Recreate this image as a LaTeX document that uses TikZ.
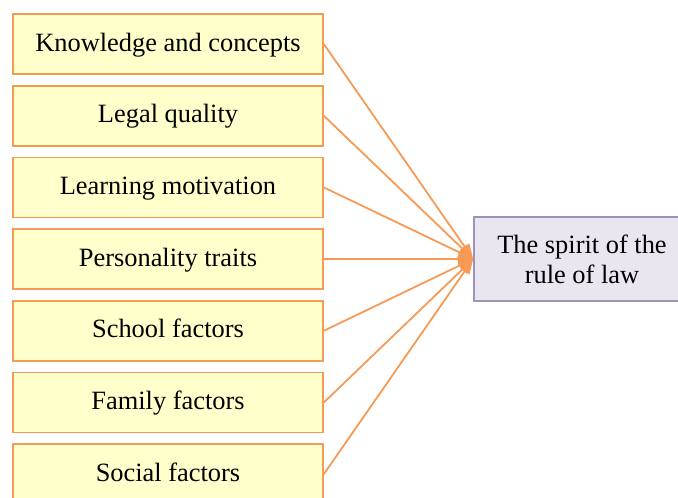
\documentclass[tikz,border=0pt]{standalone}
\usepackage{fontspec}
\setmainfont{Liberation Serif}
\usetikzlibrary{arrows.meta}

\definecolor{boxfill}{HTML}{FFFFCC}
\definecolor{boxline}{HTML}{F79A55}
\definecolor{goalfill}{HTML}{EAE6F0}
\definecolor{goalline}{HTML}{9D92BC}

\tikzset{
	factor/.style = {draw = boxline, fill = boxfill, line width = 1.6pt,
		minimum width = 310pt, minimum height = 60pt, inner sep = 0pt,
		text height = 19pt, text depth = 5pt},
	goal/.style = {draw = goalline, fill = goalfill, line width = 1.6pt,
		minimum width = 216pt, minimum height = 84pt, inner sep = 0pt,
		align = center},
	link/.style = {draw = boxline, line width = 1.8pt,
		-{Triangle[length = 15pt, width = 11pt]}}
}

\begin{document}
\begin{tikzpicture}[x = 1pt, y = -1pt, font = \fontsize{26.4}{30}\selectfont]
	\useasboundingbox (0, 0) rectangle (678, 498);

	% factors
	\node[factor] (know) at (168, 44) {Knowledge and concepts};
	\node[factor] (legal) at (168, 115.7) {Legal quality};
	\node[factor] (motiv) at (168, 187.4) {Learning motivation};
	\node[factor] (person) at (168, 259.1) {Personality traits};
	\node[factor] (school) at (168, 330.8) {School factors};
	\node[factor] (family) at (168, 402.5) {Family factors};
	\node[factor] (social) at (168, 474.2) {Social factors};

	% result
	\node[goal] (spirit) at (582, 259) {The spirit of the\\rule of law};

	% arrows
	\draw[link] (know.east) -- (spirit.west);
	\draw[link] (legal.east) -- (spirit.west);
	\draw[link] (motiv.east) -- (spirit.west);
	\draw[link] (person.east) -- (spirit.west);
	\draw[link] (school.east) -- (spirit.west);
	\draw[link] (family.east) -- (spirit.west);
	\draw[link] (social.east) -- (spirit.west);

\end{tikzpicture}
\end{document}
